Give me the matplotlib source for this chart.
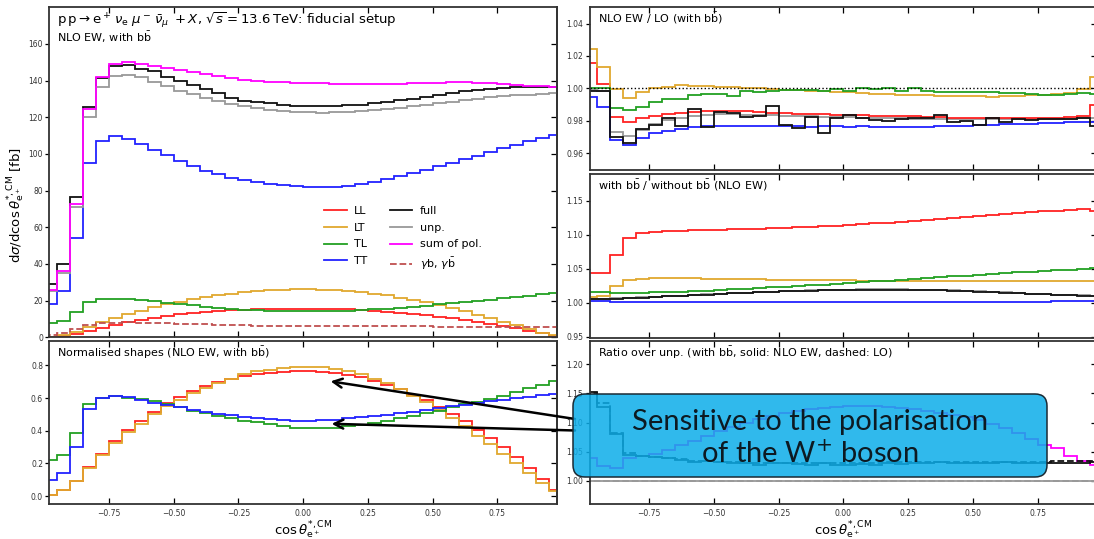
import numpy as np
import matplotlib
matplotlib.use("Agg")
import matplotlib.pyplot as plt
from matplotlib.patches import FancyBboxPatch
from matplotlib.colors import to_rgba

# 40 bins in cos(theta)
edges = np.linspace(-1.0, 1.0, 41)

# --- top left: absolute distributions [fb]
ll_abs = [0.2, 0.7, 1.8, 3.6, 5.3, 6.9, 8.3, 9.4, 10.6, 11.6, 12.5, 13.2, 13.8, 14.4, 14.8, 15.1, 15.4, 15.5, 15.6, 15.7,
          15.7, 15.6, 15.5, 15.2, 14.9, 14.5, 14.0, 13.4, 12.8, 12.0, 11.2, 10.4, 9.4, 8.4, 7.3, 6.1, 4.9, 3.6, 2.2, 0.8]
lt_abs = [0.3, 1.2, 3.0, 5.8, 8.3, 10.7, 12.9, 14.5, 16.5, 18.2, 19.5, 20.8, 21.9, 22.9, 23.8, 24.6, 25.2, 25.6, 25.9, 26.1,
          26.1, 26.0, 25.7, 25.2, 24.6, 23.8, 22.8, 21.6, 20.3, 19.0, 17.5, 15.8, 14.2, 12.2, 10.6, 8.6, 6.6, 4.6, 2.6, 1.0]
tl_abs = [7.8, 8.9, 13.6, 19.4, 20.7, 21.0, 20.7, 20.1, 19.6, 18.8, 18.1, 17.4, 16.7, 16.1, 15.5, 15.1, 14.8, 14.6, 14.4, 14.3,
          14.3, 14.3, 14.4, 14.6, 14.9, 15.3, 15.7, 16.2, 16.7, 17.3, 17.9, 18.5, 19.2, 19.9, 20.6, 21.3, 22.0, 22.7, 23.4, 24.1]
tt_abs = [18.3, 25.5, 54.2, 95.3, 107.0, 110.0, 108.3, 105.6, 102.2, 99.3, 96.2, 93.3, 90.8, 88.8, 87.0, 85.9, 84.8, 83.7, 82.8, 82.3,
          82.0, 82.0, 82.1, 82.6, 83.5, 84.8, 86.2, 87.8, 89.5, 91.3, 93.2, 95.1, 97.1, 99.1, 101.1, 103.1, 105.1, 107.0, 108.8, 110.3]
full_abs = [29.3, 39.8, 76.5, 125.5, 141.5, 148.0, 148.3, 146.5, 145.3, 141.8, 139.7, 137.5, 135.3, 133.5, 130.6, 129.1, 128.4, 128.0, 126.6, 126.3,
            126.2, 126.2, 126.4, 126.6, 126.9, 127.8, 128.4, 129.3, 130.2, 131.0, 132.1, 133.2, 134.2, 135.0, 135.5, 136.1, 136.3, 136.5, 136.7, 136.7]
unp_abs = [25.0, 35.2, 71.0, 120.3, 136.4, 142.6, 143.1, 141.8, 139.3, 136.8, 134.6, 132.5, 130.5, 128.7, 127.2, 125.9, 124.8, 124.0, 123.4, 123.0,
           122.7, 122.6, 122.7, 122.9, 123.3, 123.8, 124.4, 125.1, 125.9, 126.7, 127.6, 128.5, 129.4, 130.2, 130.9, 131.5, 132.0, 132.4, 132.7, 133.0]
sum_abs = [26.0, 36.4, 72.5, 124.3, 141.8, 149.1, 150.0, 149.3, 147.9, 146.9, 145.8, 144.6, 143.4, 142.3, 141.2, 140.3, 139.6, 139.2, 139.0, 138.9,
           138.7, 138.5, 138.3, 138.2, 138.2, 138.2, 138.3, 138.4, 138.6, 138.8, 138.9, 139.0, 139.0, 138.9, 138.6, 138.2, 137.6, 137.1, 136.8, 136.6]
gb_abs = [1.2, 2.6, 4.6, 6.6, 7.6, 8.0, 8.1, 8.0, 7.9, 7.7, 7.5, 7.3, 7.1, 6.9, 6.7, 6.6, 6.4, 6.3, 6.2, 6.1,
          6.0, 6.0, 6.0, 5.9, 5.9, 5.9, 5.9, 5.9, 5.9, 5.9, 5.8, 5.8, 5.8, 5.8, 5.8, 5.8, 5.8, 5.8, 5.8, 5.8]

# --- bottom left: normalised shapes
ll_norm = [0.01, 0.035, 0.09, 0.178, 0.258, 0.335, 0.405, 0.46, 0.518, 0.568, 0.61, 0.645, 0.675, 0.70, 0.72, 0.737, 0.749, 0.757, 0.762, 0.765,
           0.765, 0.762, 0.755, 0.743, 0.727, 0.707, 0.683, 0.655, 0.622, 0.587, 0.548, 0.505, 0.458, 0.408, 0.355, 0.298, 0.238, 0.174, 0.105, 0.04]
lt_norm = [0.01, 0.035, 0.09, 0.175, 0.25, 0.325, 0.39, 0.44, 0.50, 0.55, 0.59, 0.63, 0.665, 0.695, 0.72, 0.745, 0.765, 0.775, 0.785, 0.79,
           0.79, 0.788, 0.78, 0.765, 0.745, 0.72, 0.69, 0.655, 0.615, 0.575, 0.53, 0.48, 0.43, 0.37, 0.32, 0.26, 0.20, 0.14, 0.08, 0.03]
tl_norm = [0.222, 0.253, 0.384, 0.565, 0.604, 0.614, 0.604, 0.594, 0.58, 0.565, 0.545, 0.524, 0.508, 0.492, 0.476, 0.463, 0.451, 0.439, 0.429, 0.42,
           0.416, 0.416, 0.42, 0.427, 0.435, 0.447, 0.461, 0.476, 0.492, 0.508, 0.524, 0.545, 0.562, 0.578, 0.595, 0.615, 0.638, 0.66, 0.68, 0.705]
tt_norm = [0.10, 0.141, 0.30, 0.535, 0.60, 0.614, 0.606, 0.59, 0.573, 0.557, 0.543, 0.529, 0.516, 0.504, 0.494, 0.486, 0.478, 0.471, 0.467, 0.463,
           0.463, 0.465, 0.469, 0.476, 0.482, 0.49, 0.498, 0.508, 0.516, 0.527, 0.537, 0.549, 0.559, 0.569, 0.58, 0.59, 0.60, 0.61, 0.618, 0.624]

# --- top right: NLO EW / LO
ll_kfac = [1.0154, 1.003, 0.9825, 0.979, 0.9815, 0.983, 0.984, 0.985, 0.9855, 0.9858, 0.986, 0.986, 0.9858, 0.9855, 0.985, 0.985, 0.9845, 0.9843, 0.984, 0.9838,
           0.9835, 0.9835, 0.983, 0.983, 0.9828, 0.983, 0.9825, 0.9825, 0.982, 0.982, 0.9818, 0.9818, 0.9815, 0.9815, 0.9815, 0.9818, 0.982, 0.9823, 0.9828, 0.9897]
lt_kfac = [1.0245, 1.013, 0.9995, 0.994, 0.9978, 1.0005, 1.001, 1.0022, 1.0012, 1.0012, 1.001, 1.0008, 1.0003, 1.0, 0.9995, 0.9993, 0.999, 0.9987, 0.9985, 0.998,
           0.9975, 0.997, 0.9968, 0.9965, 0.996, 0.9958, 0.996, 0.9955, 0.9952, 0.9955, 0.9955, 0.995, 0.9955, 0.9955, 0.996, 0.996, 0.9965, 0.997, 0.9995, 1.007]
tl_kfac = [1.0, 1.0, 0.9877, 0.9866, 0.9887, 0.9915, 0.9934, 0.9934, 0.9958, 0.9965, 0.9968, 0.9955, 0.9985, 0.998, 0.9985, 0.999, 0.999, 0.999, 0.9985, 0.9995,
           0.9985, 1.0, 0.9995, 1.0, 0.9985, 1.0005, 0.9985, 0.998, 0.998, 0.998, 0.998, 0.9975, 0.997, 0.997, 0.9965, 0.996, 0.996, 0.9965, 0.997, 0.9965]
tt_kfac = [0.9945, 0.9887, 0.968, 0.9648, 0.9692, 0.9722, 0.974, 0.9752, 0.9762, 0.9768, 0.977, 0.977, 0.977, 0.9768, 0.977, 0.977, 0.9768, 0.9765, 0.9768, 0.977,
           0.9765, 0.9768, 0.9765, 0.9765, 0.9762, 0.9765, 0.9765, 0.9768, 0.9768, 0.977, 0.9772, 0.9775, 0.978, 0.978, 0.9783, 0.9785, 0.9788, 0.979, 0.9793, 0.9795]
full_kfac = [0.9985, 0.9985, 0.9698, 0.9665, 0.9747, 0.9773, 0.982, 0.9767, 0.9871, 0.9765, 0.9857, 0.9846, 0.9822, 0.983, 0.9891, 0.9775, 0.9754, 0.9822, 0.9728, 0.9816,
             0.9836, 0.9816, 0.9806, 0.9802, 0.981, 0.9816, 0.9816, 0.9836, 0.979, 0.9802, 0.9775, 0.9816, 0.979, 0.981, 0.9806, 0.981, 0.981, 0.981, 0.9816, 0.9767]
unp_kfac = [0.999, 0.9985, 0.973, 0.9705, 0.9745, 0.978, 0.9805, 0.982, 0.9832, 0.9838, 0.984, 0.984, 0.9838, 0.9836, 0.9834, 0.9832, 0.983, 0.9828, 0.9826, 0.9824,
            0.9822, 0.982, 0.9818, 0.9816, 0.9815, 0.9814, 0.9813, 0.9812, 0.9811, 0.981, 0.981, 0.981, 0.981, 0.981, 0.981, 0.981, 0.981, 0.9812, 0.9815, 0.9818]

# --- middle right: with bb / without bb
ll_bb = [1.043, 1.044, 1.070, 1.095, 1.102, 1.104, 1.105, 1.106, 1.1065, 1.107, 1.1075, 1.108, 1.1085, 1.109, 1.1095, 1.110, 1.1108, 1.1116, 1.1124, 1.1133,
         1.1143, 1.1154, 1.1166, 1.1178, 1.1191, 1.1204, 1.1218, 1.1232, 1.1246, 1.126, 1.1274, 1.1288, 1.1302, 1.1316, 1.133, 1.1343, 1.1355, 1.1366, 1.1378, 1.1355]
lt_bb = [1.009, 1.010, 1.025, 1.033, 1.035, 1.036, 1.036, 1.036, 1.0358, 1.0355, 1.035, 1.0348, 1.0345, 1.0342, 1.034, 1.0338, 1.0335, 1.0333, 1.0332, 1.033,
         1.0328, 1.0326, 1.0325, 1.0324, 1.0322, 1.0321, 1.032, 1.032, 1.032, 1.032, 1.032, 1.032, 1.032, 1.032, 1.032, 1.032, 1.032, 1.032, 1.0318, 1.0315]
tl_bb = [1.015, 1.015, 1.0145, 1.0142, 1.0145, 1.015, 1.0155, 1.0162, 1.017, 1.0178, 1.0186, 1.0195, 1.0205, 1.0215, 1.0225, 1.0235, 1.0245, 1.0256, 1.0267, 1.0278,
         1.029, 1.0302, 1.0314, 1.0326, 1.0338, 1.035, 1.0362, 1.0374, 1.0386, 1.0398, 1.041, 1.0422, 1.0434, 1.0445, 1.0456, 1.0467, 1.0478, 1.0488, 1.0497, 1.0505]
tt_bb = [1.003, 1.002, 1.0015, 1.0012, 1.0012, 1.0012, 1.0012, 1.0012, 1.0012, 1.0012, 1.0012, 1.0012, 1.0012, 1.0012, 1.0012, 1.0012, 1.0012, 1.0012, 1.0012, 1.0012,
         1.0012, 1.0012, 1.0012, 1.0012, 1.0012, 1.0012, 1.0013, 1.0013, 1.0014, 1.0014, 1.0015, 1.0015, 1.0016, 1.0016, 1.0017, 1.0017, 1.0018, 1.0019, 1.002, 1.002]
unp_bb = [1.0055, 1.006, 1.0065, 1.007, 1.0078, 1.0087, 1.0096, 1.0105, 1.0114, 1.0123, 1.0132, 1.0141, 1.0149, 1.0157, 1.0164, 1.017, 1.0176, 1.0181, 1.0186, 1.019,
          1.0193, 1.0195, 1.0196, 1.0196, 1.0195, 1.0193, 1.019, 1.0188, 1.0182, 1.0175, 1.0167, 1.0159, 1.015, 1.0142, 1.0134, 1.0126, 1.0119, 1.0113, 1.0108, 1.0104]
full_bb = [1.005, 1.0055, 1.006, 1.0065, 1.0073, 1.0082, 1.0091, 1.01, 1.0109, 1.0118, 1.0127, 1.0136, 1.0144, 1.0152, 1.0159, 1.0165, 1.0171, 1.0176, 1.0181, 1.0185,
           1.0188, 1.019, 1.0191, 1.0191, 1.019, 1.0188, 1.0185, 1.0183, 1.0177, 1.017, 1.0162, 1.0154, 1.0145, 1.0137, 1.0129, 1.0121, 1.0114, 1.0108, 1.0103, 1.0099]

# --- bottom right: ratio over unpolarised
full_unp = [1.153, 1.127, 1.08, 1.0445, 1.042, 1.041, 1.04, 1.036, 1.033, 1.035, 1.032, 1.03, 1.031, 1.028, 1.03, 1.031, 1.029, 1.027, 1.03, 1.028,
            1.027, 1.029, 1.028, 1.03, 1.029, 1.031, 1.03, 1.032, 1.031, 1.03, 1.03, 1.031, 1.032, 1.03, 1.031, 1.031, 1.031, 1.031, 1.031, 1.033]
full_unp_lo = [1.15, 1.133, 1.082, 1.048, 1.043, 1.041, 1.039, 1.037, 1.035, 1.034, 1.033, 1.032, 1.031, 1.031, 1.03, 1.03, 1.03, 1.03, 1.03, 1.03,
               1.031, 1.031, 1.031, 1.032, 1.032, 1.032, 1.032, 1.032, 1.032, 1.032, 1.032, 1.033, 1.033, 1.033, 1.033, 1.033, 1.034, 1.034, 1.034, 1.034]
sum_unp = [1.040, 1.026, 1.022, 1.040, 1.043, 1.047, 1.053, 1.061, 1.069, 1.077, 1.085, 1.092, 1.099, 1.106, 1.111, 1.116, 1.120, 1.123, 1.125, 1.127,
           1.128, 1.128, 1.128, 1.127, 1.125, 1.123, 1.12, 1.117, 1.113, 1.109, 1.104, 1.098, 1.09, 1.082, 1.072, 1.062, 1.057, 1.043, 1.035, 1.027]
unp_unp = [1.0] * 40

c_ll, c_lt, c_tl, c_tt = "#ff2222", "#e0a82e", "#22a022", "#2222ff"
c_full, c_unp, c_sum, c_gb = "#111111", "#999999", "#ff00ff", "#bf4f4f"
LW = 1.3

W, H = 1094, 539
fig = plt.figure(figsize=(W / 100, H / 100), dpi=100)


def rect(x0, y0, x1, y1):
    # pixel box (from top-left) -> figure fraction
    return [x0 / W, 1 - y1 / H, (x1 - x0) / W, (y1 - y0) / H]


ax_tl = fig.add_axes(rect(49.3, 7.3, 557.0, 337.3))
ax_bl = fig.add_axes(rect(49.3, 341.0, 557.0, 504.3))
ax_tr = fig.add_axes(rect(589.6, 7.3, 1097.3, 169.5))
ax_mr = fig.add_axes(rect(589.6, 173.5, 1097.3, 337.5))
ax_br = fig.add_axes(rect(589.6, 341.0, 1097.3, 504.3))

xticks = [-0.75, -0.5, -0.25, 0.0, 0.25, 0.5, 0.75]


def style(ax, yticks, ylim, xlab=False):
    ax.set_xlim(-0.98, 0.98)
    ax.set_ylim(*ylim)
    ax.set_xticks(xticks)
    ax.set_yticks(yticks)
    ax.tick_params(axis="x", direction="in", top=True, bottom=True, length=4, width=0.9,
                   labelsize=5.5, labelcolor="#333333", labelbottom=xlab, pad=3.5)
    ax.tick_params(axis="y", direction="out", length=3, width=0.9, pad=1.5,
                   labelsize=5.5, labelcolor="#333333")
    sec = ax.secondary_yaxis("right")
    sec.set_yticks(yticks)
    sec.tick_params(direction="in", length=4, width=0.9, labelright=False)
    for s in list(ax.spines.values()) + list(sec.spines.values()):
        s.set_linewidth(1.3)
        s.set_color("#333333")
    if xlab:
        ax.set_xlabel(r"$\cos\theta^{*,\mathrm{CM}}_{\mathrm{e}^+}$", fontsize=9.5, labelpad=1)


def stairs(ax, vals, color, ls="-", label=None):
    return ax.stairs(vals, edges, baseline=None, color=color, lw=LW, ls=ls, label=label)


# top left
stairs(ax_tl, ll_abs, c_ll, label="LL")
stairs(ax_tl, lt_abs, c_lt, label="LT")
stairs(ax_tl, tl_abs, c_tl, label="TL")
stairs(ax_tl, tt_abs, c_tt, label="TT")
stairs(ax_tl, full_abs, c_full, label="full")
stairs(ax_tl, unp_abs, c_unp, label="unp.")
stairs(ax_tl, sum_abs, c_sum, label="sum of pol.")
stairs(ax_tl, gb_abs, c_gb, ls="--", label=r"$\gamma$b, $\gamma\bar{\mathrm{b}}$")
style(ax_tl, [0, 20, 40, 60, 80, 100, 120, 140, 160], (0, 180))
ax_tl.set_ylabel(r"d$\sigma$/dcos$\,\theta^{*,\mathrm{CM}}_{\mathrm{e}^+}$ [fb]", fontsize=9.5)
ax_tl.yaxis.set_label_coords(-0.043, 0.40)
ax_tl.text(0.016, 0.962, r"$\mathrm{p\,p} \rightarrow \mathrm{e}^+\,\nu_\mathrm{e}\;\mu^-\,\bar{\nu}_\mu\;+X$, "
           r"$\sqrt{s} = 13.6\,$TeV: fiducial setup", transform=ax_tl.transAxes, fontsize=9.5, va="center")
ax_tl.text(0.016, 0.908, r"NLO EW, with b$\bar{\mathrm{b}}$", transform=ax_tl.transAxes, fontsize=8, va="center")
ax_tl.legend(ncol=2, loc="upper left", bbox_to_anchor=(0.522, 0.428), frameon=False, fontsize=8,
             handlelength=2.0, handletextpad=0.7, columnspacing=2.0, labelspacing=0.6)

# bottom left
stairs(ax_bl, ll_norm, c_ll)
stairs(ax_bl, lt_norm, c_lt)
stairs(ax_bl, tl_norm, c_tl)
stairs(ax_bl, tt_norm, c_tt)
style(ax_bl, [0.0, 0.2, 0.4, 0.6, 0.8], (-0.05, 0.95), xlab=True)
ax_bl.text(0.016, 0.9265, r"Normalised shapes (NLO EW, with b$\bar{\mathrm{b}}$)", transform=ax_bl.transAxes,
           fontsize=8, va="center")

# top right
ax_tr.axhline(1.0, color="k", ls=":", lw=1.0)
stairs(ax_tr, unp_kfac, c_unp)
stairs(ax_tr, ll_kfac, c_ll)
stairs(ax_tr, lt_kfac, c_lt)
stairs(ax_tr, tl_kfac, c_tl)
stairs(ax_tr, tt_kfac, c_tt)
stairs(ax_tr, full_kfac, c_full)
style(ax_tr, [0.96, 0.98, 1.00, 1.02, 1.04], (0.95, 1.05))
ax_tr.text(0.0166, 0.934, r"NLO EW / LO (with b$\bar{\mathrm{b}}$)", transform=ax_tr.transAxes, fontsize=8, va="center")

# middle right
stairs(ax_mr, ll_bb, c_ll)
stairs(ax_mr, lt_bb, c_lt)
stairs(ax_mr, tl_bb, c_tl)
stairs(ax_mr, tt_bb, c_tt)
stairs(ax_mr, unp_bb, c_unp)
stairs(ax_mr, full_bb, c_full)
style(ax_mr, [0.95, 1.00, 1.05, 1.10, 1.15], (0.9488, 1.19))
ax_mr.text(0.0166, 0.926, r"with b$\bar{\mathrm{b}}$ / without b$\bar{\mathrm{b}}$ (NLO EW)",
           transform=ax_mr.transAxes, fontsize=8, va="center")

# bottom right
stairs(ax_br, unp_unp, c_unp)
stairs(ax_br, unp_unp, c_unp, ls="--")
stairs(ax_br, sum_unp, c_sum)
stairs(ax_br, full_unp, c_full)
stairs(ax_br, full_unp_lo, c_full, ls="--")
style(ax_br, [1.00, 1.05, 1.10, 1.15, 1.20], (0.96, 1.24), xlab=True)
ax_br.text(0.0166, 0.9265, r"Ratio over unp. (with b$\bar{\mathrm{b}}$, solid: NLO EW, dashed: LO)",
           transform=ax_br.transAxes, fontsize=8, va="center")

# arrows pointing at the LT/LL and TL/TT shapes
for tip, tail in [((0.106, 0.703), (575, 419)), ((0.110, 0.443), (575, 430.5))]:
    ax_bl.annotate("", xy=tip, xycoords="data", xytext=(tail[0] / W, 1 - tail[1] / H),
                   textcoords="figure fraction", annotation_clip=False,
                   arrowprops=dict(arrowstyle="->", lw=1.8, color="black", mutation_scale=16,
                                   shrinkA=0, shrinkB=0))

# callout box
box = FancyBboxPatch((5.73, 0.62), 4.74, 0.83, boxstyle="round,pad=0,rounding_size=0.12",
                     transform=fig.dpi_scale_trans, facecolor=to_rgba("#0cade9", 0.85),
                     edgecolor="#1b2a33", lw=1.1, zorder=5)
fig.add_artist(box)
fig.text(810 / W, 1 - 438.5 / H, "Sensitive to the polarisation\nof the W$^{+}$ boson", ha="center", va="center",
         multialignment="center", fontsize=21, family="Lato", color="#0d1a22", linespacing=1.2, zorder=6)

fig.savefig("out.png", dpi=100)
